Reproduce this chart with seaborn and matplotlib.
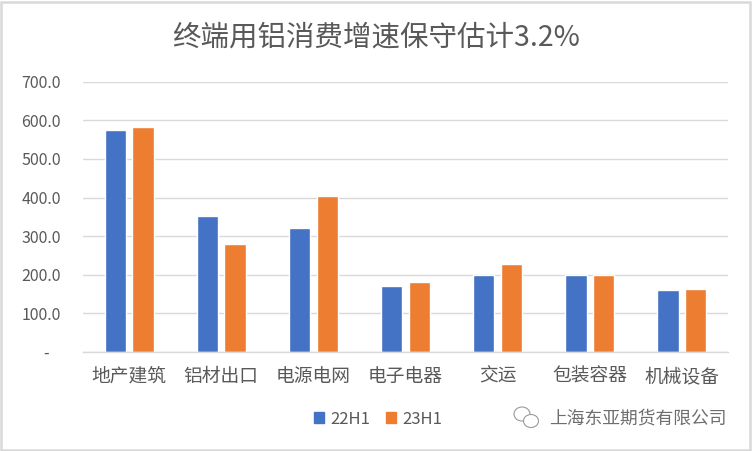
import numpy as np
import pandas as pd
import matplotlib
matplotlib.use("Agg")
import matplotlib.pyplot as plt
import matplotlib.patches as mpatches
import seaborn as sns

# 终端用铝消费 (万吨)
categories = ['地产建筑', '铝材出口', '电源电网', '电子电器', '交运', '包装容器', '机械设备']
vals_22h1 = [575, 352, 321, 170, 199, 200, 160]
vals_23h1 = [583, 280, 404, 180, 227, 200, 163]
series = ['22H1', '23H1']
yticks = [0, 100, 200, 300, 400, 500, 600, 700]

df = pd.DataFrame({
    '类别': categories * 2,
    '期间': ['22H1'] * len(categories) + ['23H1'] * len(categories),
    '消费': vals_22h1 + vals_23h1,
})

sns.set_style('white')
plt.rcParams['font.family'] = ['Noto Sans CJK SC', 'DejaVu Sans']
plt.rcParams['font.weight'] = 'light'
grey = '#595959'
colors = ['#4472C4', '#ED7D31']

fig = plt.figure(figsize=(7.52, 4.51), dpi=100)
ax = fig.add_axes([83 / 752, 1 - 352 / 451, 645 / 752, (352 - 81.7) / 451])

sns.barplot(data=df, x='类别', y='消费', hue='期间', palette=colors,
            width=0.6, gap=0.23, legend=False, ax=ax, saturation=1)

ax.set_ylim(0, 700)
ax.set_xlim(-0.5, len(categories) - 0.5)
ax.set_yticks(yticks)
ax.set_yticklabels(['-   '] + [f'{v:.1f}' for v in yticks[1:]])
ax.yaxis.grid(True, color='#D9D9D9', linewidth=1.0)
ax.set_axisbelow(True)
for s in ['top', 'right', 'left']:
    ax.spines[s].set_visible(False)
ax.spines['bottom'].set_color('#D9D9D9')
ax.spines['bottom'].set_linewidth(1.0)
ax.tick_params(axis='y', length=0, pad=16, labelsize=11.5, labelcolor=grey)
ax.tick_params(axis='x', length=0, pad=10, labelsize=13.5, labelcolor=grey)
ax.set_xlabel('')
ax.set_ylabel('')

fig.text(0.5, 1 - 38 / 451, '终端用铝消费增速保守估计3.2%', ha='center', va='center',
         fontsize=20.5, color=grey)

handles = [mpatches.Patch(color=c, label=s) for c, s in zip(colors, series)]
fig.legend(handles=handles, loc='center', bbox_to_anchor=(378 / 752, 1 - 419 / 451),
           ncol=2, frameon=False, fontsize=12, labelcolor=grey,
           handlelength=0.6, handleheight=0.6, handletextpad=0.4, columnspacing=0.9)

# 水印
fig.text(549 / 752, 1 - 418 / 451, '上海东亚期货有限公司', ha='left', va='center',
         fontsize=12.8, color='#6E6E6E')
fig.add_artist(mpatches.Ellipse((522 / 752, 1 - 414 / 451), 16 / 752, 14 / 451,
                                fill=False, ec='#9A9A9A', lw=0.8))
fig.add_artist(mpatches.Ellipse((531 / 752, 1 - 421 / 451), 15 / 752, 13 / 451,
                                fc='white', ec='#9A9A9A', lw=0.8))

# 图表外框
fig.add_artist(mpatches.Rectangle((1 / 752, 1 / 451), 749 / 752, 448 / 451,
                                  fill=False, ec='#D9D9D9', lw=1.8))

fig.savefig('out.png', dpi=100)
